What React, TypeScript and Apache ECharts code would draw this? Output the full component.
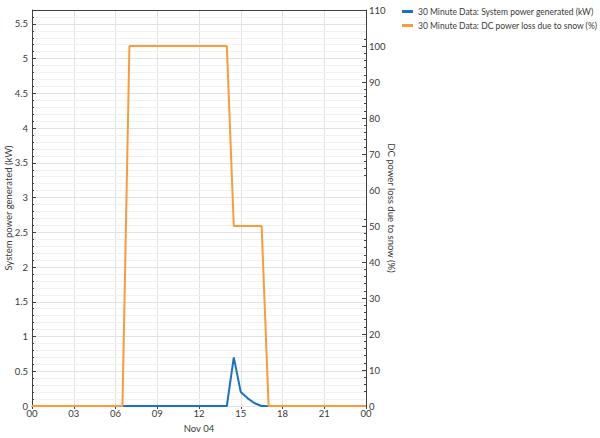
import React, { useEffect, useRef } from "react";
import * as echarts from "echarts";

// Time of day in hours (30 minute steps), Nov 04
const hours: number[] = [
  0, 0.5, 1, 1.5, 2, 2.5, 3, 3.5, 4, 4.5, 5, 5.5, 6, 6.5, 7, 7.5, 8, 8.5, 9, 9.5,
  10, 10.5, 11, 11.5, 12, 12.5, 13, 13.5, 14, 14.5, 15, 15.5, 16, 16.5, 17, 17.5,
  18, 18.5, 19, 19.5, 20, 20.5, 21, 21.5, 22, 22.5, 23, 23.5, 24,
];

// System power generated (kW)
const powerGenerated: number[] = [
  0, 0, 0, 0, 0, 0, 0, 0, 0, 0, 0, 0, 0, 0, 0, 0, 0, 0, 0, 0,
  0, 0, 0, 0, 0, 0, 0, 0, 0, 0.7, 0.2, 0.11, 0.04, 0, 0, 0,
  0, 0, 0, 0, 0, 0, 0, 0, 0, 0, 0, 0, 0,
];

// DC power loss due to snow (%)
const snowLoss: number[] = [
  0, 0, 0, 0, 0, 0, 0, 0, 0, 0, 0, 0, 0, 0, 100, 100, 100, 100, 100, 100,
  100, 100, 100, 100, 100, 100, 100, 100, 100, 50, 50, 50, 50, 50, 0, 0,
  0, 0, 0, 0, 0, 0, 0, 0, 0, 0, 0, 0, 0,
];

const seriesNames: string[] = [
  "30 Minute Data: System power generated (kW)",
  "30 Minute Data: DC power loss due to snow (%)",
];
const dayLabel = "Nov 04";
const leftAxisName = "System power generated (kW)";
const rightAxisName = "DC power loss due to snow (%)";

const FONT = "Lato, 'Noto Sans', sans-serif";
const FS = 9.5;
const TEXT = "#3a3a3a";
const AXIS = "#404040";

export default function App() {
  const ref = useRef<HTMLDivElement>(null);
  useEffect(() => {
    if (!ref.current) return;
    const chart = echarts.init(ref.current, null, { renderer: "svg" });
    const blue = "#1a72c4";
    const orange = "#ff9a3c";
    chart.setOption({
      animation: false,
      textStyle: { fontFamily: FONT },
      legend: {
        orient: "vertical",
        left: 397,
        top: 2,
        itemGap: 5,
        itemWidth: 11,
        itemHeight: 3,
        icon: "rect",
        textStyle: { fontFamily: FONT, fontSize: 8.5, color: TEXT },
        data: seriesNames,
      },
      grid: { left: 32, right: 234, top: 10, bottom: 32, show: false, outerBoundsMode: "none", containLabel: false },
      xAxis: {
        type: "value",
        min: 0,
        max: 24,
        interval: 3,
        name: dayLabel,
        nameLocation: "middle",
        nameGap: 17,
        nameMoveOverlap: false,
        nameTextStyle: { fontFamily: FONT, fontSize: FS, color: TEXT },
        axisLine: { show: true, onZero: false, lineStyle: { color: AXIS, width: 1 } },
        axisTick: { show: true, length: 3, lineStyle: { color: AXIS } },
        axisLabel: {
          fontFamily: FONT,
          fontSize: FS,
          color: TEXT,
          margin: 2,
          formatter: (v: number) => {
            const h = Math.round(v) % 24;
            return (h < 10 ? "0" : "") + h;
          },
        },
        splitLine: { show: true, lineStyle: { color: "#e2e2e2" } },
      },
      yAxis: [
        {
          type: "value",
          position: "left",
          min: 0,
          max: 5.7,
          interval: 0.5,
          name: leftAxisName,
          nameLocation: "middle",
          nameGap: 19,
          nameMoveOverlap: false,
          nameTextStyle: { fontFamily: FONT, fontSize: FS, color: TEXT },
          axisLine: { show: true, lineStyle: { color: AXIS } },
          axisTick: { show: true, inside: true, length: 4, lineStyle: { color: AXIS } },
          axisLabel: {
            fontFamily: FONT,
            fontSize: FS,
            color: TEXT,
            margin: 4,
            showMaxLabel: false,
          },
          splitLine: { show: true, lineStyle: { color: "#e2e2e2" } },
          z: 3,
        },
        {
          type: "value",
          position: "right",
          min: 0,
          max: 110,
          interval: 10,
          name: rightAxisName,
          nameLocation: "middle",
          nameRotate: -90,
          nameGap: 20,
          nameMoveOverlap: false,
          nameTextStyle: { fontFamily: FONT, fontSize: FS, color: TEXT },
          axisLine: { show: true, lineStyle: { color: AXIS } },
          axisTick: { show: true, inside: true, length: 4, lineStyle: { color: AXIS } },
          minorTick: { show: true, splitNumber: 5, length: 2, lineStyle: { color: AXIS } },
          axisLabel: { fontFamily: FONT, fontSize: FS, color: TEXT, margin: 3 },
          splitLine: { show: false },
        },
        {
          type: "value",
          position: "left",
          min: 0,
          max: 5.7,
          interval: 0.1,
          axisLine: { show: false },
          axisTick: { show: true, inside: true, length: 2, lineStyle: { color: AXIS } },
          axisLabel: { show: false },
          splitLine: { show: true, lineStyle: { color: "#f1f1f1" } },
          z: 1,
        },
      ],
      graphic: [
        {
          type: "line",
          shape: { x1: 32, y1: 10.5, x2: 366, y2: 10.5 },
          style: { stroke: AXIS, lineWidth: 1 },
          z: 10,
        },
      ],
      series: [
        {
          name: seriesNames[0],
          type: "line",
          yAxisIndex: 0,
          data: hours.map((h, i) => [h, powerGenerated[i]]),
          showSymbol: false,
          symbol: "none",
          lineStyle: { color: blue, width: 2 },
          itemStyle: { color: blue },
          z: 4,
        },
        {
          name: seriesNames[1],
          type: "line",
          yAxisIndex: 1,
          data: hours.map((h, i) => [h, snowLoss[i]]),
          showSymbol: false,
          symbol: "none",
          lineStyle: { color: orange, width: 2 },
          itemStyle: { color: orange },
          z: 5,
        },
      ],
    });
    return () => chart.dispose();
  }, []);
  return (
    <div
      ref={ref}
      style={{ position: "fixed", left: 0, top: 0, width: 600, height: 438, background: "#fff" }}
    />
  );
}
